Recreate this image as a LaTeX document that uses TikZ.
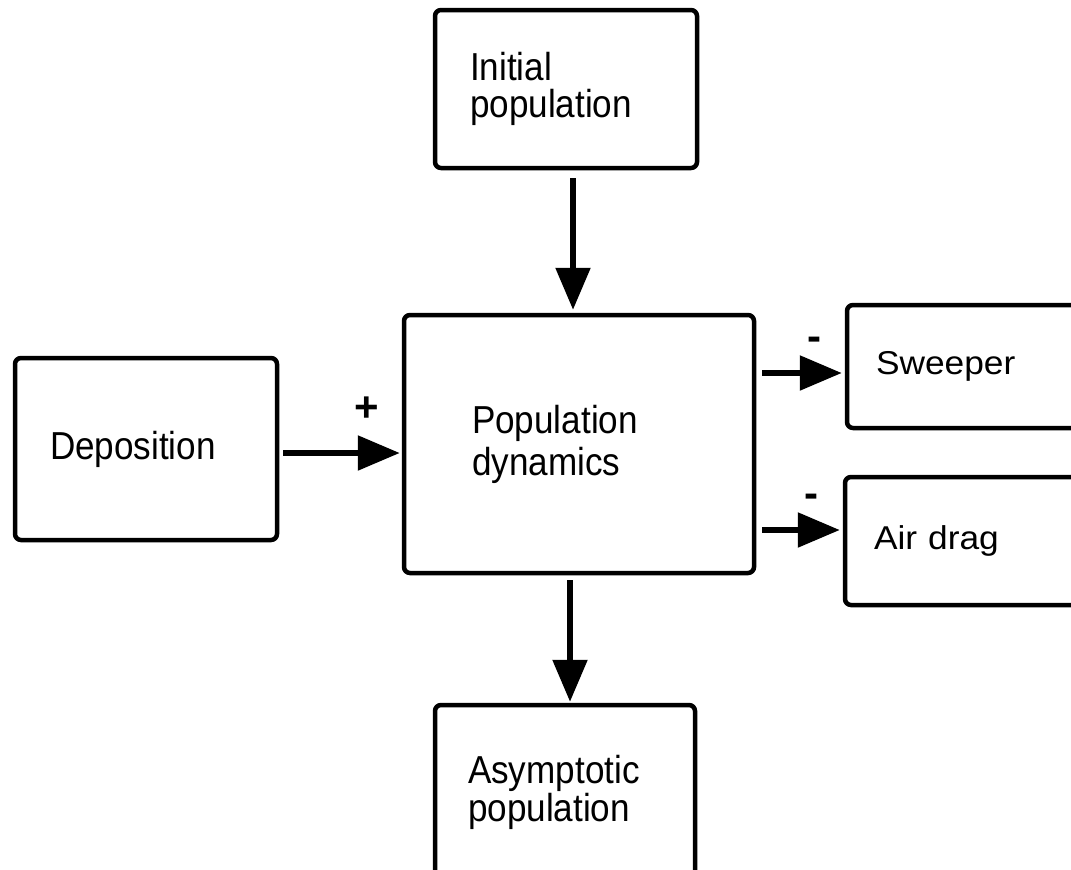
\documentclass[tikz,border=0pt]{standalone}
\usepackage{fontspec}
\setmainfont{Liberation Sans}
\newfontfamily\narrowfont{Liberation Sans}[FakeStretch=0.9]
\newfontfamily\widefont{Liberation Sans}[FakeStretch=1.07]
\usetikzlibrary{arrows.meta}
\begin{document}
\begin{tikzpicture}[x=1pt,y=-1pt,>={Triangle[length=42pt,width=34pt]}]
  \tikzstyle{block}=[draw, line width=4.5pt, rounded corners=6pt, align=left,
    font=\narrowfont\fontsize{39pt}{37pt}\selectfont, inner xsep=35pt]
  \tikzstyle{sidebox}=[block, font=\widefont\fontsize{33pt}{36pt}\selectfont, inner xsep=29pt]
  \tikzstyle{flow}=[->, line width=5.5pt]
  \tikzstyle{sign}=[font=\fontsize{42pt}{42pt}\selectfont\bfseries, inner sep=0pt]

  \useasboundingbox (0,0) rectangle (1071,870);
  \clip (0,0) rectangle (1071,870);

  % Blocks
  \node[block, minimum width=262pt, minimum height=158pt, text width=192pt] (init) at (566,89) {Initial\\population};
  \node[block, minimum width=350pt, minimum height=258pt, text width=214pt, inner xsep=68pt,
    font=\narrowfont\fontsize{39pt}{42pt}\selectfont] (dyn) at (579,444) {Population\\dynamics};
  \node[block, minimum width=262pt, minimum height=182pt, text width=192pt] (depo) at (146,449) {Deposition};
  \node[sidebox, minimum width=264pt, minimum height=123pt, text width=206pt] (sweep) at (979,366.5) {Sweeper};
  \node[sidebox, minimum width=266pt, minimum height=128pt, text width=208pt] (drag) at (978,541) {Air drag};
  \node[block, minimum width=260pt, minimum height=175pt, text width=194pt, inner xsep=33pt,
    font=\narrowfont\fontsize{39pt}{31pt}\selectfont] (asym) at (565,792.5) {Asymptotic\\population};

  % Flows
  \draw[flow, shorten <=8pt, shorten >=3pt] ([xshift=7pt]init.south) -- ([xshift=7pt]init.south |- dyn.north);
  \draw[flow, shorten <=4pt, shorten >=2pt] ([yshift=-4pt]depo.east) -- node[sign, pos=0.716, yshift=44pt] {+} ([yshift=-4pt]depo.east -| dyn.west);
  \draw[flow, shorten <=6pt, shorten >=3pt] ([yshift=-6.5pt]sweep.west -| dyn.east) -- node[sign, pos=0.66, yshift=29pt] {-} ([yshift=-6.5pt]sweep.west);
  \draw[flow, shorten <=6pt, shorten >=3pt] ([yshift=11pt]drag.west -| dyn.east) -- node[sign, pos=0.64, yshift=29pt] {-} ([yshift=11pt]drag.west);
  \draw[flow, shorten <=5pt, shorten >=1pt] ([xshift=-9pt]dyn.south) -- ([xshift=-9pt]dyn.south |- asym.north);
\end{tikzpicture}
\end{document}
